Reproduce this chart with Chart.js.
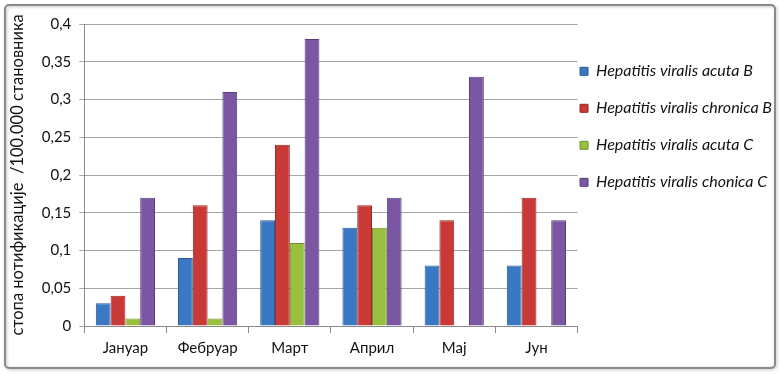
<!DOCTYPE html>
<html lang="sr">
<head>
    <meta charset="UTF-8">
    <title>Hepatitis viralis</title>
    <script src="https://cdn.jsdelivr.net/npm/chart.js"></script>
    <style>
        body {
            margin: 0;
            background: #fff;
        }
        #wrap {
            width: 780px;
            height: 374px;
        }
    </style>
</head>
<body>
<div id="wrap"><canvas id="chart" width="780" height="374"></canvas></div>

<script>
    // податци
    const months = ['Јануар', 'Фебруар', 'Март', 'Април', 'Мај', 'Јун'];
    const acutaB = [0.03, 0.09, 0.14, 0.13, 0.08, 0.08];
    const chronicaB = [0.04, 0.16, 0.24, 0.16, 0.14, 0.17];
    const acutaC = [0.01, 0.01, 0.11, 0.13, 0, 0];
    const chonicaC = [0.17, 0.31, 0.38, 0.17, 0.33, 0.14];
    const seriesNames = [
        'Hepatitis viralis acuta B',
        'Hepatitis viralis chronica B',
        'Hepatitis viralis acuta C',
        'Hepatitis viralis chonica C'
    ];
    const yTitle = 'стопа нотификације  /100.000 становника';

    const fill = ['#3a78c4', '#c93a37', '#98c03e', '#7b56a3'];
    const edge = ['#285a98', '#962826', '#6f8f28', '#583c7a'];

    // оквир око целог графикона
    const frame = {
        id: 'frame',
        beforeDraw(chart) {
            const c = chart.ctx;
            c.save();
            c.fillStyle = '#fff';
            c.fillRect(0, 0, chart.width, chart.height);
            c.shadowColor = 'rgba(0,0,0,0.25)';
            c.shadowBlur = 3;
            c.shadowOffsetX = 1;
            c.shadowOffsetY = 1;
            c.strokeStyle = '#8a8a8a';
            c.lineWidth = 2;
            c.beginPath();
            c.roundRect(5, 5, 770, 363, 4);
            c.stroke();
            c.restore();
        }
    };

    const ds = [acutaB, chronicaB, acutaC, chonicaC].map((d, i) => ({
        label: seriesNames[i],
        data: d,
        backgroundColor: fill[i],
        borderColor: edge[i],
        borderWidth: 1,
        categoryPercentage: 0.72,
        barPercentage: 1
    }));

    // празни редови између ставки легенде, да би размак био као у Excel-у
    function legendLabels(chart) {
        const items = Chart.defaults.plugins.legend.labels.generateLabels(chart);
        const out = [];
        items.forEach((it, i) => {
            if (i > 0) {
                out.push({ text: '', fillStyle: 'rgba(0,0,0,0)', strokeStyle: 'rgba(0,0,0,0)', lineWidth: 0 });
            }
            out.push(it);
        });
        return out;
    }

    new Chart(document.getElementById('chart'), {
        type: 'bar',
        data: { labels: months, datasets: ds },
        plugins: [frame],
        options: {
            responsive: false,
            animation: false,
            layout: { padding: { top: 24, left: 8, right: -2, bottom: 11 } },
            plugins: {
                legend: {
                    position: 'right',
                    align: 'start',
                    maxWidth: 260,
                    onClick: null,
                    title: { display: true, text: ' ', padding: 10, font: { size: 14 } },
                    labels: {
                        boxWidth: 8,
                        boxHeight: 8,
                        padding: 2.5,
                        color: '#111',
                        font: { family: 'Lato', size: 16, style: 'italic' },
                        generateLabels: legendLabels
                    }
                },
                tooltip: { enabled: false }
            },
            scales: {
                x: {
                    grid: {
                        display: true,
                        drawOnChartArea: false,
                        tickLength: 7,
                        color: '#8a8a8a'
                    },
                    border: { color: '#8a8a8a' },
                    ticks: {
                        color: '#111',
                        padding: 6,
                        font: { family: 'Lato', size: 15 }
                    }
                },
                y: {
                    min: 0,
                    max: 0.4,
                    ticks: {
                        stepSize: 0.05,
                        color: '#111',
                        padding: 8,
                        font: { family: 'Lato', size: 15 },
                        callback: v => String(Math.round(v * 100) / 100).replace('.', ',')
                    },
                    grid: { color: '#a6a6a6', tickLength: 5 },
                    border: { color: '#8a8a8a' },
                    title: {
                        display: true,
                        text: yTitle,
                        color: '#111',
                        padding: { top: 0, bottom: 6 },
                        font: { family: 'Lato', size: 16.5 }
                    }
                }
            }
        }
    });
</script>
</body>
</html>
